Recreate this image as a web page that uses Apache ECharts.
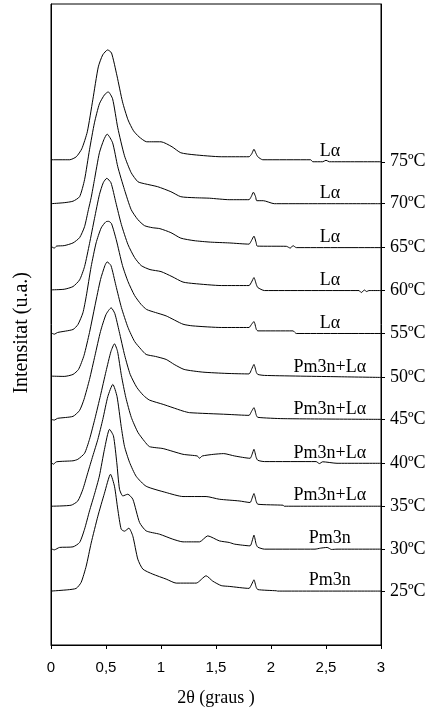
<!DOCTYPE html>
<html><head><meta charset="utf-8">
<script src="https://cdn.jsdelivr.net/npm/echarts@6/dist/echarts.min.js"></script>
<style>html,body{margin:0;padding:0;background:#fff}#c{width:429px;height:712px}</style>
</head><body><div id="c"></div>
<script>
// temperatures, bottom to top
const temperatures = ['25ºC','30ºC','35ºC','40ºC','45ºC','50ºC','55ºC','60ºC','65ºC','70ºC','75ºC'];
const phases = ['Pm3n','Pm3n','Pm3n+Lα','Pm3n+Lα','Pm3n+Lα','Pm3n+Lα','Lα','Lα','Lα','Lα','Lα'];
// vertical offset (stacking, a.u.) of each curve's baseline
const offsets = [54, 96, 139, 182, 226, 268, 312, 355, 398, 442, 484];
const labelX = 2.535;
const xTickLabels = ['0','0,5','1','1,5','2','2,5','3'];

// [2θ, intensity above baseline]
const c25 = [[0,0],[0.153,1.3],[0.229,2.7],[0.274,8.7],[0.32,25],[0.365,48],[0.426,75],[0.486,98],[0.541,117],[0.577,105],[0.607,82],[0.638,62],[0.668,60],[0.708,63],[0.744,55],[0.789,32],[0.835,22],[0.925,17],[1.047,12],[1.138,8],[1.32,8],[1.41,15.3],[1.47,10],[1.547,5.5],[1.62,4.7],[1.8,2.7],[1.825,7],[1.845,11.3],[1.865,4],[1.88,1.5],[2.05,0.3],[2.06,0],[3,0]];
const c30 = [[0,0.5],[0.03,-0.7],[0.077,1.7],[0.2,2.3],[0.26,6.7],[0.305,20],[0.35,38.3],[0.395,55],[0.44,73.3],[0.486,100],[0.532,120],[0.568,113.3],[0.598,86.7],[0.623,60],[0.653,53.3],[0.698,55],[0.744,50],[0.805,26.7],[0.865,18.3],[0.986,15],[1.107,10],[1.2,7.3],[1.35,7.3],[1.425,13.3],[1.53,8.3],[1.62,6.7],[1.67,5],[1.81,3.3],[1.828,8],[1.845,14],[1.865,5],[1.88,2],[1.94,0],[2.4,0],[2.45,1],[2.51,1.7],[2.55,-0.3],[2.6,0],[3,0]];
const c35 = [[0,0],[0.183,1],[0.244,5.3],[0.29,17],[0.335,33.7],[0.38,50.3],[0.426,67],[0.471,87],[0.517,110],[0.562,122],[0.6,110],[0.638,80],[0.668,60],[0.714,44],[0.774,30],[0.865,20],[1.047,13.7],[1.2,9.7],[1.41,9.7],[1.53,7],[1.71,5.3],[1.81,3.7],[1.828,8],[1.845,12.7],[1.865,5],[1.88,2],[2.11,1],[2.12,0],[3,0]];
const c40 = [[0,1.5],[0.02,-1],[0.05,1.5],[0.2,2.5],[0.244,4],[0.305,10],[0.35,24],[0.4,45],[0.45,68],[0.5,92],[0.545,112],[0.577,119.7],[0.605,112],[0.64,88],[0.68,66],[0.73,46],[0.79,31],[0.85,22],[0.895,16.7],[1.02,14.7],[1.2,9],[1.33,7.3],[1.35,5],[1.375,7.3],[1.48,9],[1.57,9.7],[1.67,7.3],[1.81,5],[1.828,9],[1.845,14],[1.865,6],[1.88,3],[1.94,1.7],[2.41,1.7],[2.44,-0.3],[2.47,1.5],[2.6,0],[3,0]];
const c45 = [[0,0],[0.03,-0.7],[0.06,1],[0.2,3],[0.26,9],[0.3,20],[0.35,40],[0.4,64],[0.45,88],[0.5,105],[0.547,111.7],[0.58,106],[0.62,88],[0.67,64],[0.72,45],[0.78,32],[0.84,24],[0.895,19.3],[1.02,15],[1.1,12],[1.2,8.3],[1.26,6.7],[1.6,5],[1.8,4],[1.823,8],[1.845,11.7],[1.867,4],[1.88,2],[2.11,0.7],[3,0]];
const c50 = [[0,1.3],[0.12,1],[0.2,3],[0.25,8],[0.3,22],[0.35,45],[0.4,72],[0.45,98],[0.49,112],[0.51,115.7],[0.545,112],[0.59,92],[0.64,70],[0.7,50],[0.76,36],[0.82,28],[0.865,23],[0.95,21],[1.047,18],[1.12,13],[1.21,8],[1.38,5.3],[1.6,4],[1.8,3.5],[1.823,8],[1.845,13],[1.867,5],[1.88,3],[1.94,2],[2.6,0.7],[3,0]];
const c55 = [[0,0.7],[0.03,-0.7],[0.06,1],[0.2,4],[0.245,9],[0.29,20.7],[0.32,37],[0.365,67],[0.41,90.7],[0.456,105.7],[0.5,112],[0.525,112.3],[0.55,110],[0.593,94],[0.65,68],[0.7,52],[0.76,38],[0.82,29],[0.87,24],[0.95,21],[1.047,17.6],[1.2,9.3],[1.29,7.6],[1.55,6],[1.8,6],[1.822,9],[1.845,12],[1.867,4],[1.88,2.6],[2.2,2.6],[2.23,0],[3,0]];
const c60 = [[0,0.7],[0.12,1.3],[0.2,4],[0.26,10.7],[0.305,24],[0.35,47],[0.395,72],[0.44,96],[0.475,108],[0.507,112.4],[0.545,108],[0.59,88],[0.64,66],[0.7,46],[0.76,33],[0.82,25],[0.9,21],[1.0,19],[1.1,14],[1.2,8.5],[1.3,7],[1.55,5],[1.8,5],[1.823,8.5],[1.845,13],[1.867,6],[1.88,3],[1.94,0],[2.8,0],[2.82,-2],[2.85,0.5],[2.87,-1],[2.89,0],[3,0]];
const c65 = [[0,1.3],[0.03,-0.5],[0.05,1.5],[0.12,2],[0.2,4.7],[0.26,10],[0.305,21],[0.34,38],[0.365,50],[0.395,68],[0.44,95],[0.48,108],[0.51,113.7],[0.56,105],[0.607,81],[0.668,58],[0.729,38],[0.79,28],[0.85,22],[0.92,20],[0.99,19],[1.09,15],[1.18,9.5],[1.3,7],[1.45,5.5],[1.62,4.7],[1.8,3.5],[1.822,7],[1.845,11.5],[1.865,5],[1.875,1.5],[2.14,1.3],[2.175,-0.5],[2.2,2],[2.23,0],[3,0]];
const c70 = [[0,0],[0.12,1],[0.2,2.5],[0.26,7],[0.305,24],[0.35,54],[0.395,81],[0.44,100],[0.486,109],[0.52,112],[0.56,105],[0.607,76],[0.668,48],[0.729,31],[0.79,22],[0.85,20],[0.97,17],[1.09,12],[1.18,7],[1.3,6],[1.44,5.5],[1.62,4],[1.8,4],[1.82,7],[1.84,11.5],[1.86,7],[1.87,3],[1.93,3],[2.03,0],[3,0]];
const c75 = [[0,2],[0.17,2],[0.23,5],[0.28,13],[0.33,30],[0.38,62],[0.43,95],[0.47,107],[0.515,112],[0.55,109],[0.6,86],[0.65,60],[0.7,42],[0.75,31],[0.8,25],[0.87,20],[1.0,20],[1.1,15],[1.18,9],[1.3,7],[1.55,5],[1.8,5],[1.825,8],[1.845,12.5],[1.865,8],[1.88,5],[1.925,2],[2.36,2],[2.38,0],[2.47,0],[2.5,1.5],[2.53,0],[3,0]];
const curves = [c25, c30, c35, c40, c45, c50, c55, c60, c65, c70, c75];

const serif = "'Times New Roman','Liberation Serif',serif";
const sans = "Arial,'Liberation Sans',sans-serif";

const chart = echarts.init(document.getElementById('c'), null, {renderer: 'canvas'});
const series = curves.map((pts, i) => ({
  type: 'line',
  name: temperatures[i],
  data: pts.map(p => [p[0], p[1] + offsets[i]]),
  symbol: 'none',
  smooth: 0.2,
  lineStyle: {color: '#000', width: 1},
  silent: true,
  markPoint: {
    symbol: 'circle', symbolSize: 1,
    itemStyle: {color: 'rgba(0,0,0,0)'},
    label: {show: true, position: 'top', distance: 1, formatter: phases[i],
      color: '#000', fontFamily: serif, fontSize: 18},
    data: [{coord: [labelX, offsets[i]]}]
  }
}));

chart.setOption({
  animation: false,
  backgroundColor: '#fff',
  grid: {left: 51, top: 4, width: 330, height: 642, show: true, borderColor: '#000', borderWidth: 1, containLabel: false},
  xAxis: {
    type: 'value', min: 0, max: 3, interval: 0.5,
    axisLine: {show: true, lineStyle: {color: '#000', width: 1}},
    axisTick: {show: true, inside: false, length: 4, lineStyle: {color: '#000'}},
    axisLabel: {margin: 15, fontSize: 15, fontFamily: sans, color: '#000',
      formatter: v => xTickLabels[Math.round(v * 2)]},
    splitLine: {show: false},
    name: '2θ (graus )', nameLocation: 'middle', nameGap: 44,
    nameTextStyle: {fontFamily: serif, fontSize: 18, color: '#000'}
  },
  yAxis: [{
    type: 'value', min: 0, max: 642, position: 'left',
    axisLine: {show: true, lineStyle: {color: '#000', width: 1}},
    axisTick: {show: false}, axisLabel: {show: false}, splitLine: {show: false}
  }, {
    type: 'value', min: 0, max: 642, position: 'right',
    axisLine: {show: true, lineStyle: {color: '#000', width: 1}},
    axisTick: {show: true, length: 4, customValues: offsets, lineStyle: {color: '#000'}},
    axisLabel: {show: true, customValues: offsets, margin: 9, fontSize: 18, fontFamily: serif, color: '#000',
      formatter: v => temperatures[offsets.indexOf(v)]},
    splitLine: {show: false}
  }],
  graphic: [{
    type: 'text', left: 12, top: 272, rotation: Math.PI / 2,
    style: {text: 'Intensitat (u.a.)', fontFamily: serif, fontSize: 20, fill: '#000'}
  }],
  series: series
});
</script></body></html>
